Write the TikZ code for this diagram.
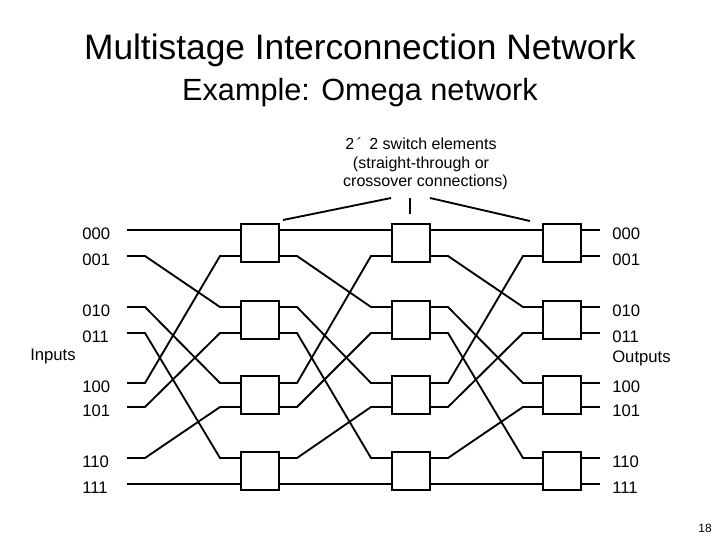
\documentclass[tikz,border=0pt]{standalone}
\usepackage{fontspec}
\setmainfont{Liberation Sans}
\begin{document}
\begin{tikzpicture}[x=0.75pt,y=-0.75pt,
  wire/.style={line width=1.4pt},
  sw/.style={draw,line width=1.4pt,minimum width=28.5pt,minimum height=29pt,inner sep=0pt},
  lab/.style={font=\fontsize{12.5}{14}\selectfont,anchor=west,inner sep=0pt}]
\useasboundingbox (0,0) rectangle (720,540);
\node (t1) at (360,50) {\fontsize{26.5}{30}\selectfont Multistage Interconnection Network};
\node (t2) at (360,93) {\fontsize{23}{26}\selectfont Example: Omega network};
\node[align=center,font=\fontsize{12}{14}\selectfont] (note) at (421,164) {2\,\textasciiacute\ \,2 switch elements\\(straight-through or\\ \ \ crossover connections)};
\def\ys{{230,256,307,333,383,407,458,484}}
\def\perm{{0,2,4,6,1,3,5,7}}
\def\labs{{"000","001","010","011","100","101","110","111"}}
% boxes
\foreach \bx/\s in {260/1,411/2,562/3}{
  \foreach \k in {0,1,2,3}{
    \pgfmathsetmacro\ya{\ys[2*\k]}
    \pgfmathsetmacro\yb{\ys[2*\k+1]}
    \node[sw] (b\s\k) at (\bx,{(\ya+\yb)/2}) {};
  }
}
% wires
\foreach \xa/\xb/\xc/\xd in {127/145/220/241,279/297/371/392,430/448/523/543}{
  \foreach \i in {0,...,7}{
    \pgfmathsetmacro\ya{\ys[\i]}
    \pgfmathsetmacro\yb{\ys[\perm[\i]]}
    \coordinate (p1) at (\xa,\ya);
    \coordinate (p2) at (\xb,\ya);
    \coordinate (p3) at (\xc,\yb);
    \coordinate (p4) at (\xd,\yb);
    \draw[wire] (p1) -- (p2) -- (p3) -- (p4);
  }
}
\foreach \i in {0,...,7}{
  \pgfmathsetmacro\ya{\ys[\i]}
  \coordinate (o1) at (582,\ya);
  \coordinate (o2) at (600,\ya);
  \draw[wire] (o1) -- (o2);
  \pgfmathsetmacro\l{\labs[\i]}
  \node[lab] (in\i) at (82,\ya+4) {\l};
  \node[lab] (out\i) at (612,\ya+4) {\l};
}
\node[lab] (inputs) at (30,356) {Inputs};
\node[lab] (outputs) at (612,358) {Outputs};
\node[font=\fontsize{9}{11}\selectfont] (pg) at (705,528) {18};
\coordinate (a1) at (283,220); \coordinate (a2) at (391,198);
\coordinate (a3) at (410,198); \coordinate (a4) at (410,214);
\coordinate (a5) at (430,198); \coordinate (a6) at (530,221);
\draw[wire] (a1) -- (a2); \draw[wire] (a3) -- (a4); \draw[wire] (a5) -- (a6);
\end{tikzpicture}
\end{document}
